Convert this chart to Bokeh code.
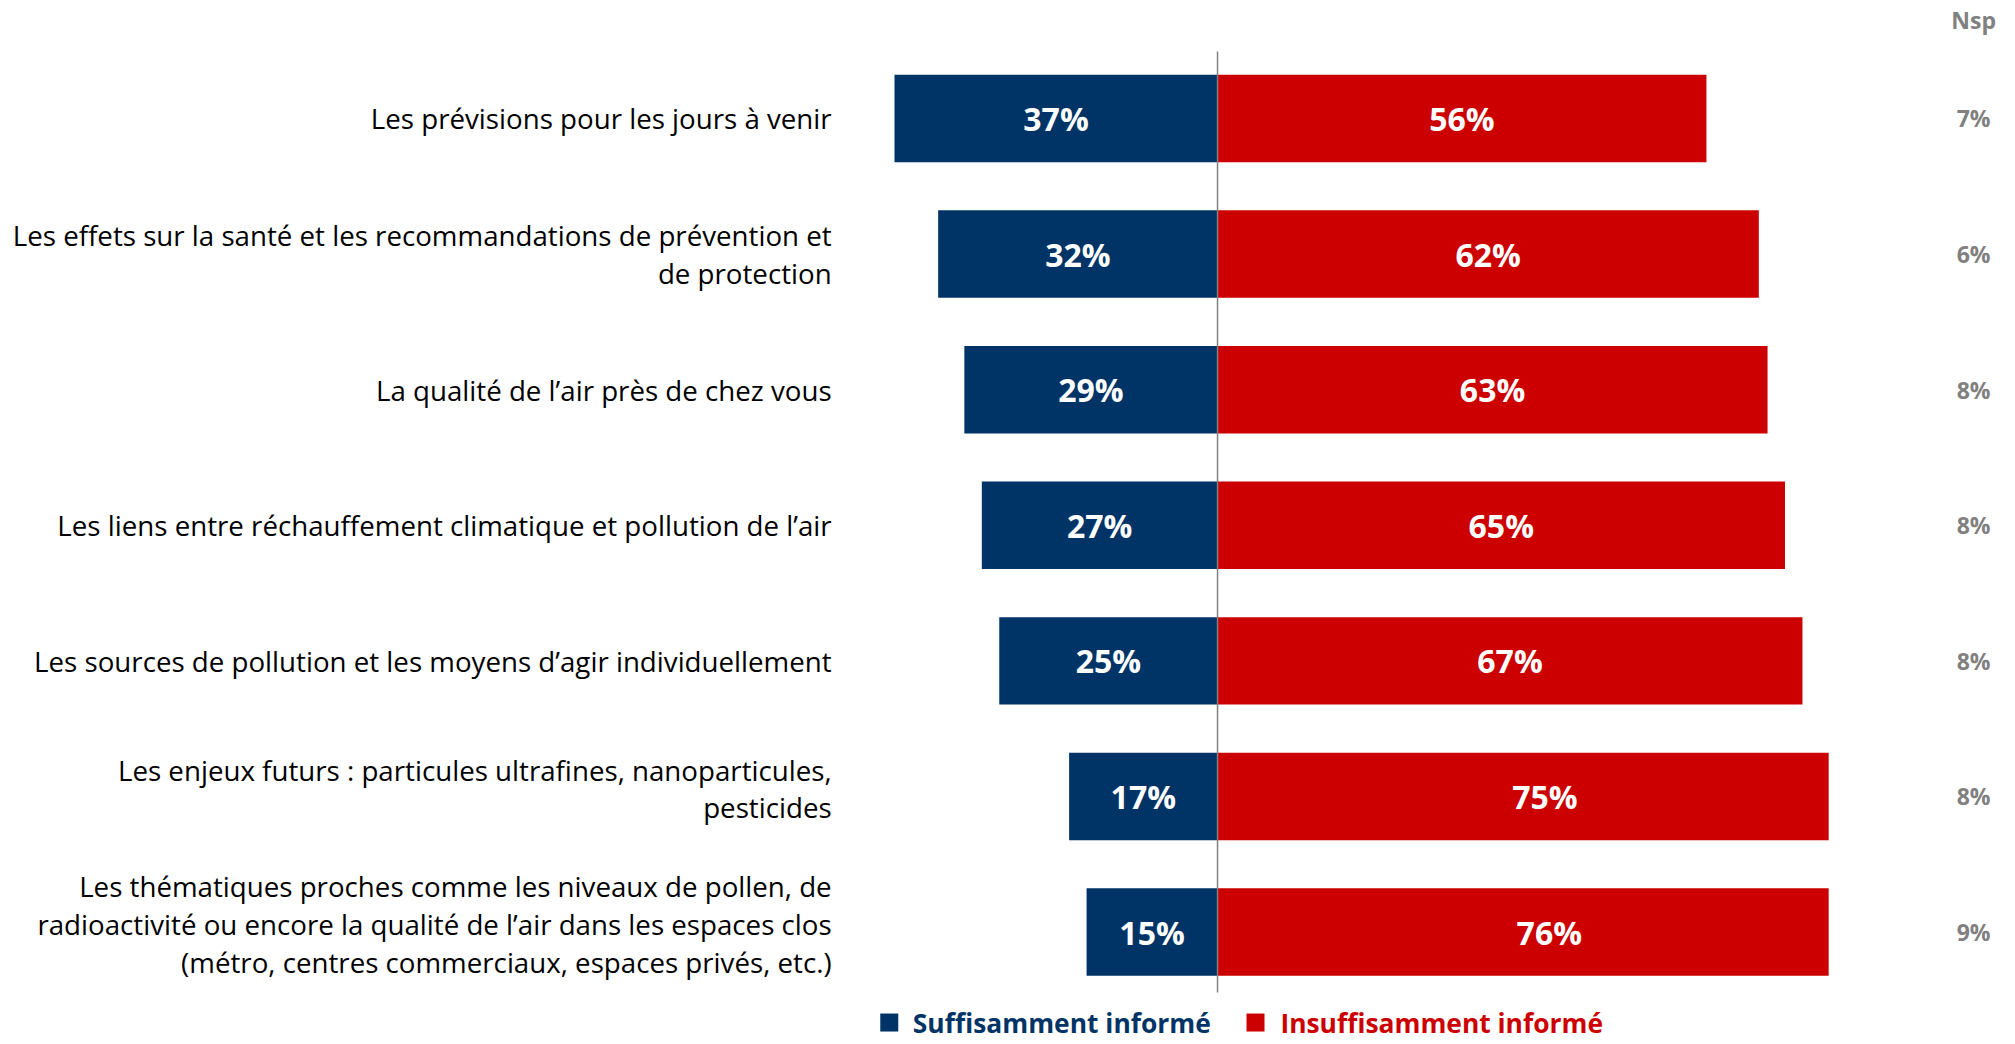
from bokeh.plotting import figure
from bokeh.models import Range1d, ColumnDataSource
from bokeh.core.properties import value
from bokeh.embed import file_html
from bokeh.resources import INLINE

categories = [
    "Les prévisions pour les jours à venir",
    "Les effets sur la santé et les recommandations de prévention et\nde protection",
    "La qualité de l’air près de chez vous",
    "Les liens entre réchauffement climatique et pollution de l’air",
    "Les sources de pollution et les moyens d’agir individuellement",
    "Les enjeux futurs : particules ultrafines, nanoparticules,\npesticides",
    "Les thématiques proches comme les niveaux de pollen, de\nradioactivité ou encore la qualité de l’air dans les espaces clos\n(métro, centres commerciaux, espaces privés, etc.)",
]
suffisamment = [37, 32, 29, 27, 25, 17, 15]
insuffisamment = [56, 62, 63, 65, 67, 75, 76]
nsp = [7, 6, 8, 8, 8, 8, 9]
series_names = ["Suffisamment informé", "Insuffisamment informé"]
nsp_title = "Nsp"
axis_max = 70  # the value axis stops at 70 %: longer bars are cut there

BLUE = "#003366"
RED = "#CC0000"
GREY = "#808080"
FONT = "Open Sans"

W, H = 2015, 1044
rows = list(range(len(categories)))

p = figure(width=W, height=H, output_backend="svg", toolbar_location=None,
           x_range=Range1d(-139.4, 91.4), y_range=Range1d(6.829, -0.870),
           min_border=0)
p.axis.visible = False
p.grid.visible = False
p.outline_line_color = None
p.background_fill_color = "white"

src = ColumnDataSource(dict(
    y=rows,
    cat=categories,
    suff=[-v for v in suffisamment],
    insuff=[min(v, axis_max) for v in insuffisamment],
    suff_mid=[-v / 2 for v in suffisamment],
    insuff_mid=[v / 2 for v in insuffisamment],
    suff_lbl=[f"{v}%" for v in suffisamment],
    insuff_lbl=[f"{v}%" for v in insuffisamment],
    nsp_lbl=[f"{v}%" for v in nsp],
    nsp_x=[86.6] * len(rows),
    cat_x=[-44.2] * len(rows),
    # the two lowest labels sit a little above their bar centre
    cat_dy=[-8 if i >= 5 else 0 for i in rows],
))

BH = 0.645
p.hbar(y="y", left="suff", right=0, height=BH, source=src, fill_color=BLUE, line_color=None)
p.hbar(y="y", left=0, right="insuff", height=BH, source=src, fill_color=RED, line_color=None)

# center axis line
p.segment(x0=[0], y0=[-0.494], x1=[0], y1=[6.445], line_color=GREY, line_width=1.5)

# value labels
for xcol, tcol in (("suff_mid", "suff_lbl"), ("insuff_mid", "insuff_lbl")):
    p.text(x=xcol, y="y", text=tcol, source=src, text_color="white",
           text_font=value(FONT), text_font_style="bold", text_font_size="32px",
           text_align="center", text_baseline="middle")

# category labels
p.text(x="cat_x", y="y", text="cat", source=src, text_color="#000000",
       text_font=value(FONT), text_font_size="27.7px", text_line_height=0.99,
       text_align="right", text_baseline="middle", y_offset="cat_dy")

# Nsp
p.text(x="nsp_x", y="y", text="nsp_lbl", source=src, text_color=GREY,
       text_font=value(FONT), text_font_style="bold", text_font_size="23px",
       text_align="center", text_baseline="middle")
p.text(x=[86.6], y=[-0.723], text=[nsp_title], text_color=GREY,
       text_font=value(FONT), text_font_style="bold", text_font_size="23px",
       text_align="center", text_baseline="middle")

# legend
leg_y = 6.667
p.scatter(x=[-37.6], y=[leg_y], marker="square", size=18, fill_color=BLUE, line_color=None)
p.text(x=[-34.9], y=[leg_y], text=[series_names[0]], text_color=BLUE,
       text_font=value(FONT), text_font_style="bold", text_font_size="26.4px",
       text_align="left", text_baseline="middle")
p.scatter(x=[4.35], y=[leg_y], marker="square", size=18, fill_color=RED, line_color=None)
p.text(x=[7.2], y=[leg_y], text=[series_names[1]], text_color=RED,
       text_font=value(FONT), text_font_style="bold", text_font_size="26.4px",
       text_align="left", text_baseline="middle")

open("out.html", "w").write(file_html(p, INLINE))
